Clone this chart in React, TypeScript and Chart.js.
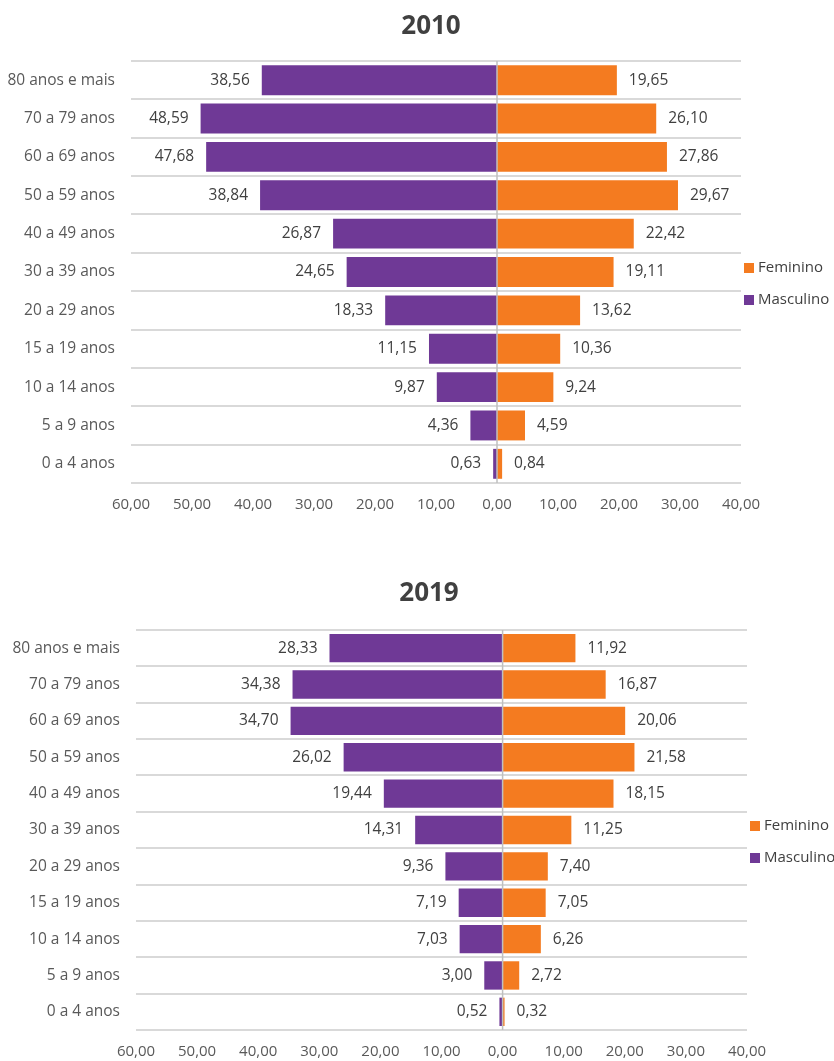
import React, { useEffect, useRef } from "react";
import { Chart, registerables } from "chart.js";

Chart.register(...registerables);

const FONT = '"Open Sans", "Noto Sans", sans-serif';

const categories = [
  "80 anos e mais",
  "70 a 79 anos",
  "60 a 69 anos",
  "50 a 59 anos",
  "40 a 49 anos",
  "30 a 39 anos",
  "20 a 29 anos",
  "15 a 19 anos",
  "10 a 14 anos",
  "5 a 9 anos",
  "0 a 4 anos",
];

const masculino2010 = [38.56, 48.59, 47.68, 38.84, 26.87, 24.65, 18.33, 11.15, 9.87, 4.36, 0.63];
const feminino2010 = [19.65, 26.1, 27.86, 29.67, 22.42, 19.11, 13.62, 10.36, 9.24, 4.59, 0.84];
const masculino2019 = [28.33, 34.38, 34.7, 26.02, 19.44, 14.31, 9.36, 7.19, 7.03, 3.0, 0.52];
const feminino2019 = [11.92, 16.87, 20.06, 21.58, 18.15, 11.25, 7.4, 7.05, 6.26, 2.72, 0.32];

const xMin = -60;
const xMax = 40;
const xStep = 10;

const PURPLE = "#6F3996";
const ORANGE = "#F47B20";
const TEXT = "#404040";
const TICK = "#595959";
const GRID = "#D9D9D9";
const ZERO = "#BFBFBF";

const fmt = (v: number) => Math.abs(v).toFixed(2).replace(".", ",");

type Area = { left: number; right: number; top: number; bottom: number };

function Pyramid(props: {
  title: string;
  titleX: number;
  masc: number[];
  fem: number[];
  top: number;
  height: number;
  area: Area;
}) {
  const ref = useRef<HTMLCanvasElement>(null);
  useEffect(() => {
    const { area, height } = props;
    const labelPlugin = {
      id: "valueLabels",
      afterDatasetsDraw(chart: any) {
        const ctx = chart.ctx;
        const ca = chart.chartArea;
        ctx.save();
        // title
        ctx.font = `bold 26px ${FONT}`;
        ctx.fillStyle = TEXT;
        ctx.textAlign = "center";
        ctx.textBaseline = "middle";
        ctx.fillText(props.title, props.titleX, 27);
        // value labels
        ctx.font = `15.5px ${FONT}`;
        ctx.fillStyle = TEXT;
        chart.data.datasets.forEach((ds: any, di: number) => {
          const meta = chart.getDatasetMeta(di);
          meta.data.forEach((bar: any, i: number) => {
            const v = ds.data[i];
            const txt = fmt(v);
            if (v < 0) {
              ctx.textAlign = "right";
              ctx.fillText(txt, bar.x - 12, bar.y);
            } else {
              ctx.textAlign = "left";
              ctx.fillText(txt, bar.x + 12, bar.y);
            }
          });
        });
        // zero line
        const x0 = chart.scales.x.getPixelForValue(0);
        ctx.strokeStyle = ZERO;
        ctx.lineWidth = 1.5;
        ctx.beginPath();
        ctx.moveTo(x0, ca.top);
        ctx.lineTo(x0, ca.bottom);
        ctx.stroke();
        // legend
        const cy = (ca.top + ca.bottom) / 2 + 12;
        const items = [
          { label: "Feminino", color: ORANGE, y: cy - 16 },
          { label: "Masculino", color: PURPLE, y: cy + 16 },
        ];
        ctx.font = `15px ${FONT}`;
        ctx.textAlign = "left";
        items.forEach((it) => {
          ctx.fillStyle = it.color;
          ctx.fillRect(ca.right + 3, it.y - 5, 10, 10);
          ctx.fillStyle = TEXT;
          ctx.fillText(it.label, ca.right + 17, it.y);
        });
        ctx.restore();
      },
    };

    const chart = new Chart(ref.current!, {
      type: "bar",
      data: {
        labels: categories,
        datasets: [
          {
            label: "Masculino",
            data: props.masc.map((v) => -v),
            backgroundColor: PURPLE,
            barPercentage: 0.78,
            categoryPercentage: 1,
          },
          {
            label: "Feminino",
            data: props.fem,
            backgroundColor: ORANGE,
            barPercentage: 0.78,
            categoryPercentage: 1,
          },
        ],
      },
      options: {
        indexAxis: "y",
        animation: false,
        responsive: false,
        maintainAspectRatio: false,
        layout: { padding: { left: 0, right: 834 - area.right, top: area.top, bottom: 0 } },
        plugins: {
          legend: { display: false },
          tooltip: { enabled: false },
          title: { display: false },
        },
        scales: {
          x: {
            type: "linear",
            stacked: true,
            min: xMin,
            max: xMax,
            ticks: {
              stepSize: xStep,
              callback: (v: any) => fmt(Number(v)),
              color: TICK,
              font: { family: FONT, size: 15 },
              padding: 13,
            },
            grid: { display: false, drawTicks: false },
            border: { display: false },
            afterFit: (s: any) => {
              s.height = height - area.bottom;
            },
          },
          y: {
            type: "category",
            stacked: true,
            ticks: {
              color: TICK,
              font: { family: FONT, size: 15.5 },
              padding: 16,
            },
            grid: { color: GRID, lineWidth: 2, drawTicks: false },
            border: { display: false },
            afterFit: (s: any) => {
              s.width = area.left;
            },
          },
        },
      },
      plugins: [labelPlugin],
    });
    return () => chart.destroy();
  }, []);
  return (
    <div style={{ position: "absolute", left: 0, top: props.top, width: 834, height: props.height }}>
      <canvas ref={ref} width={834} height={props.height} style={{ width: 834, height: props.height }} />
    </div>
  );
}

export default function App() {
  return (
    <div style={{ position: "fixed", left: 0, top: 0, width: 834, height: 1061, background: "#fff" }}>
      <Pyramid
        title="2010"
        titleX={431}
        masc={masculino2010}
        fem={feminino2010}
        top={0}
        height={545}
        area={{ left: 131, right: 741, top: 61, bottom: 483 }}
      />
      <Pyramid
        title="2019"
        titleX={429}
        masc={masculino2019}
        fem={feminino2019}
        top={567}
        height={494}
        area={{ left: 136, right: 747, top: 63, bottom: 463 }}
      />
    </div>
  );
}
